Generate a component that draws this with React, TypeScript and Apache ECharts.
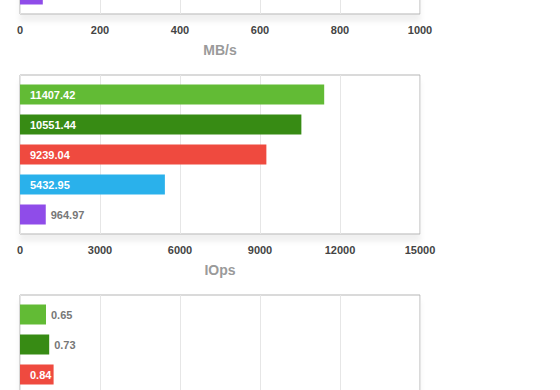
import React, { useEffect, useRef } from "react";
import * as echarts from "echarts";

// ---- data ----
const categories = [""];
const seriesNames = ["Run A", "Run B", "Run C", "Run D", "Run E"];
const seriesColors = ["#62bb35", "#378b14", "#ef4a3f", "#2ab1eb", "#8f4ce9"];
// top chart (MB/s): only the last bar is visible in the picture
const throughputValues: (number | null)[] = [null, null, null, null, 57];
const iopsValues: (number | null)[] = [11407.42, 10551.44, 9239.04, 5432.95, 964.97];
// bottom chart: only the first three bars are visible
const latencyValues: (number | null)[] = [0.65, 0.73, 0.84, null, null];

const throughputTicks = { min: 0, max: 1000, interval: 200, name: "MB/s" };
const iopsTicks = { min: 0, max: 15000, interval: 3000, name: "IOps" };
const latencyTicks = { min: 0, max: 10, interval: 2, name: "" };

const FONT = "'Helvetica Neue', Helvetica, 'Liberation Sans', Arial, sans-serif";

export default function App() {
  const ref = useRef<HTMLDivElement>(null);
  useEffect(() => {
    if (!ref.current) return;
    const chart = echarts.init(ref.current, null, { renderer: "svg" });
    const ctx = document.createElement("canvas").getContext("2d")!;
    ctx.font = `bold 11px ${FONT}`;

    const gridLeft = 20;
    const gridWidth = 400;
    const gridHeight = 159;
    // the picture is a crop of three stacked panels: the top one's labels above
    // the frame and the bottom one's axis labels below it lie outside the view
    const panels = [
      { ticks: throughputTicks, values: throughputValues, top: -145, barLabels: false, axisLabels: true },
      { ticks: iopsTicks, values: iopsValues, top: 75, barLabels: true, axisLabels: true },
      { ticks: latencyTicks, values: latencyValues, top: 295, barLabels: true, axisLabels: false },
    ];

    const grid = panels.map((p) => ({
      left: gridLeft,
      width: gridWidth,
      top: p.top,
      height: gridHeight,
      outerBoundsMode: "none",
      containLabel: false,
      show: true,
      borderColor: "#b5b5b5",
      borderWidth: 1,
      backgroundColor: "#ffffff",
      shadowColor: "rgba(0,0,0,0.06)",
      shadowBlur: 5,
      shadowOffsetY: 7,
    }));
    const xAxis = panels.map((p, i) => ({
      type: "value",
      gridIndex: i,
      min: p.ticks.min,
      max: p.ticks.max,
      interval: p.ticks.interval,
      name: p.ticks.name,
      nameLocation: "middle",
      nameGap: 29,
      nameTextStyle: { color: "#9a9a9a", fontSize: 14, fontWeight: "bold", fontFamily: FONT },
      axisLine: { show: false },
      axisTick: { show: false },
      axisLabel: {
        show: p.axisLabels,
        color: "#444",
        fontSize: 11,
        fontWeight: "bold",
        fontFamily: FONT,
        margin: 10,
        formatter: (v: number) => String(v),
      },
      splitLine: { show: true, lineStyle: { color: "#e6e6e6", width: 1 } },
    }));
    const yAxis = panels.map((_, i) => ({
      type: "category",
      gridIndex: i,
      data: categories,
      inverse: true,
      show: false,
    }));

    const series: any[] = [];
    panels.forEach((p, pi) => {
      seriesNames.forEach((name, si) => {
        const v = p.values[si];
        const barPx = v == null ? 0 : (v / p.ticks.max) * gridWidth;
        const txt = v == null ? "" : String(v);
        const fits = barPx > ctx.measureText(txt).width + 8;
        series.push({
          type: "bar",
          name,
          xAxisIndex: pi,
          yAxisIndex: pi,
          barWidth: 20,
          barGap: "50%",
          itemStyle: { color: seriesColors[si] },
          data: [
            v == null
              ? "-"
              : {
                  value: v,
                  label: {
                    show: p.barLabels,
                    position: fits ? "insideLeft" : "right",
                    distance: fits ? 10 : 5,
                    color: fits ? "#ffffff" : "#777777",
                    fontSize: 11,
                    fontWeight: "bold",
                    fontFamily: FONT,
                    formatter: txt,
                  },
                },
          ],
        });
      });
    });

    chart.setOption({ animation: false, grid, xAxis, yAxis, series });
    return () => chart.dispose();
  }, []);
  return (
    <div
      ref={ref}
      style={{ position: "fixed", left: 0, top: 0, width: 560, height: 390, background: "#fff" }}
    />
  );
}
